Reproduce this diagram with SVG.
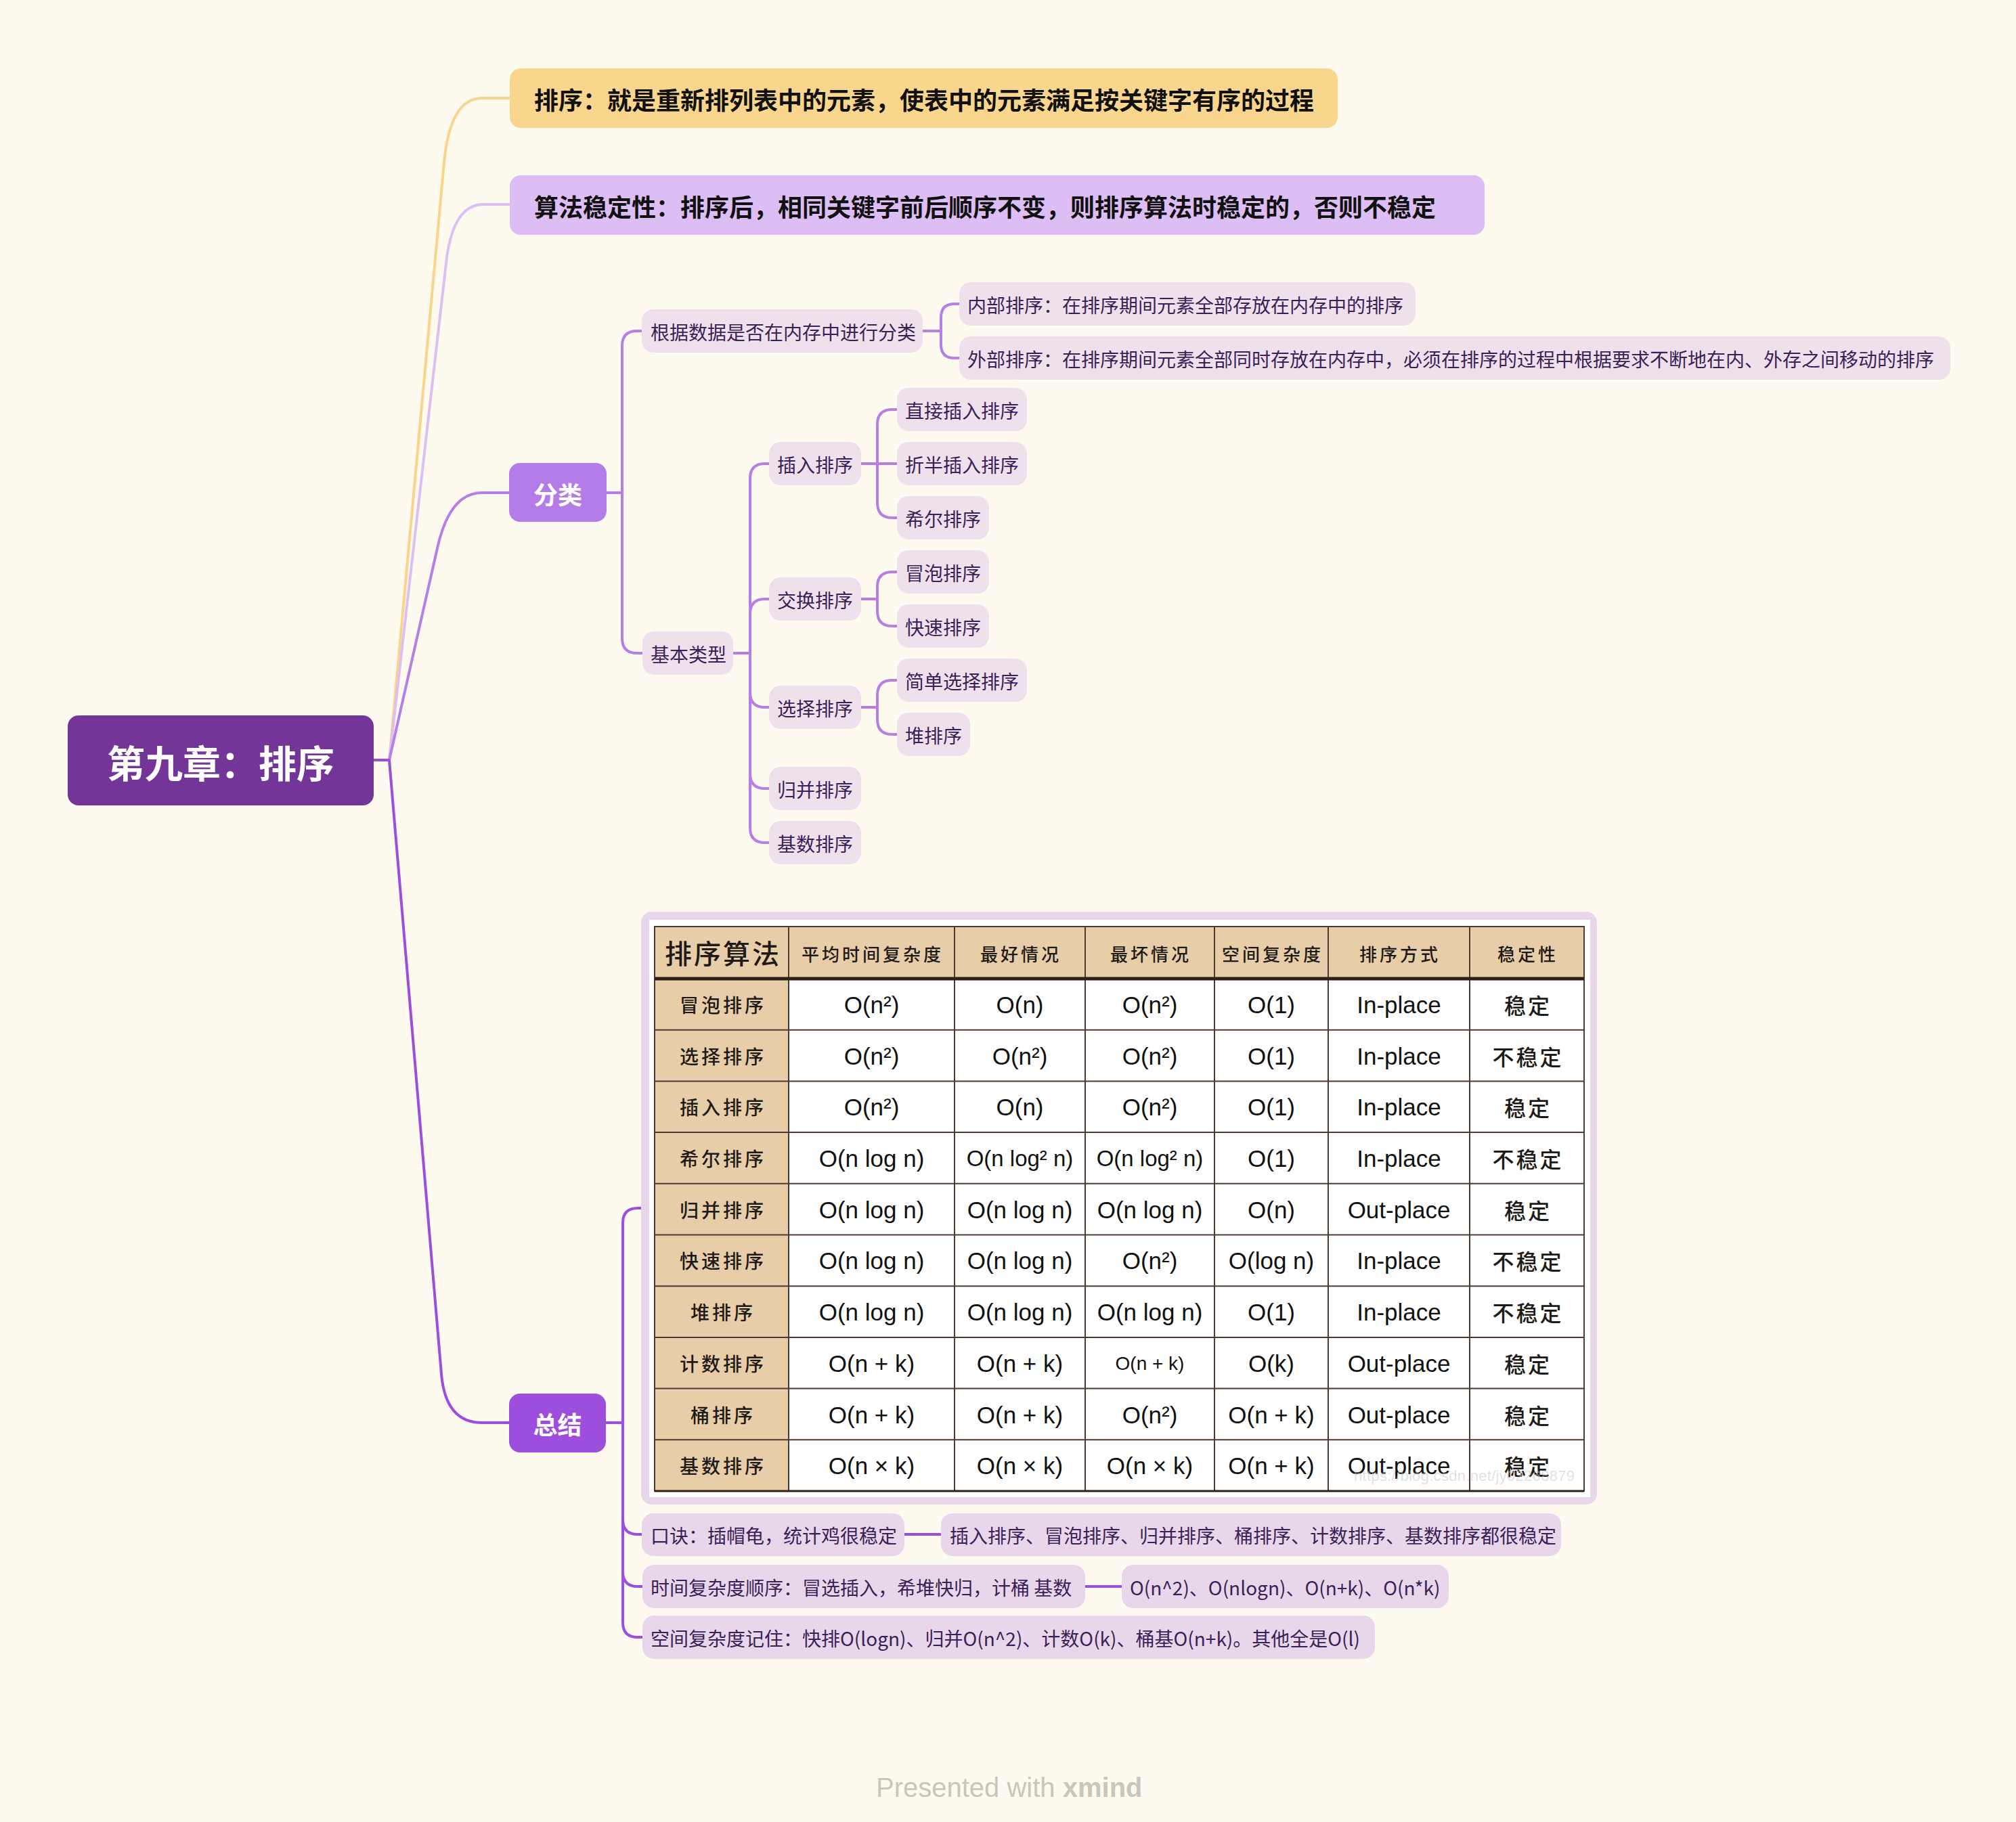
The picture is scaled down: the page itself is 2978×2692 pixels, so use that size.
<svg xmlns="http://www.w3.org/2000/svg" width="2978" height="2692" viewBox="0 0 2978 2692">
<style>
.t{font-family:"Noto Sans CJK SC","Noto Sans",sans-serif;}
.n28{font-family:"Noto Sans CJK SC","Noto Sans",sans-serif;font-size:28px;fill:#3B1F57;dominant-baseline:central;}
.nb{fill:#EEE1EC;}
.ns{fill:#E8D6EA;}
.c1{fill:none;stroke:#B57FE6;stroke-width:4;stroke-linecap:round;}
.c2{fill:none;stroke:#9D4EDD;stroke-width:4;stroke-linecap:round;}
.hd{font-family:"Noto Sans CJK SC",sans-serif;font-size:26px;fill:#1E1A16;letter-spacing:4px;text-anchor:middle;dominant-baseline:central;font-weight:500;}
.rl{font-family:"Noto Sans CJK SC",sans-serif;font-size:28px;fill:#1E1A16;letter-spacing:4px;text-anchor:middle;dominant-baseline:central;font-weight:500;}
.st{font-family:"Noto Sans CJK SC",sans-serif;font-size:32px;fill:#1E1A16;letter-spacing:3px;text-anchor:middle;dominant-baseline:central;font-weight:500;}
.d{font-family:"Liberation Sans",Arial,sans-serif;font-size:35px;fill:#111;text-anchor:middle;dominant-baseline:central;}
.grid{stroke:#4D3B31;stroke-width:2;fill:none;}
</style>
<rect x="0" y="0" width="2978" height="2692" fill="#FEFAEF"/>

<g id="connectors">
  <path d="M552 1123 H575" stroke="#9D4EDD" stroke-width="4" fill="none"/>
  <path d="M575 1123 L656 240 Q665 145 712 145 L753 145" fill="none" stroke="#FAD48A" stroke-width="4"/>
  <path d="M575 1123 L660 380 Q671 302 714 302 L753 302" fill="none" stroke="#DCC0F4" stroke-width="4"/>
  <path d="M575 1123 L646 810 Q664 728 712 728 L752 728" class="c1"/>
  <path d="M575 1123 L652 2030 Q658 2102 712 2102 L752 2102" class="c2"/>
  <path d="M896 728 H919" class="c1"/>
  <path d="M948 489 H941 Q919 489 919 511 V943 Q919 965 941 965 H949" class="c1"/>
  <path d="M1363 489 H1390" class="c1"/>
  <path d="M1417 449 H1410 Q1390 449 1390 469 V509 Q1390 529 1410 529 H1417" class="c1"/>
  <path d="M1083 965 H1108" class="c1"/>
  <path d="M1136 685 H1130 Q1108 685 1108 707 V1223 Q1108 1245 1130 1245 H1136" class="c1"/>
  <path d="M1108 907 Q1108 885 1130 885 H1136" class="c1"/>
  <path d="M1108 1023 Q1108 1045 1130 1045 H1136" class="c1"/>
  <path d="M1108 1143 Q1108 1165 1130 1165 H1136" class="c1"/>
  <path d="M1272 685 H1325" class="c1"/>
  <path d="M1325 605 H1318 Q1296 605 1296 627 V743 Q1296 765 1318 765 H1325" class="c1"/>
  <path d="M1272 885 H1296" class="c1"/>
  <path d="M1325 845 H1318 Q1296 845 1296 867 V903 Q1296 925 1318 925 H1325" class="c1"/>
  <path d="M1272 1045 H1296" class="c1"/>
  <path d="M1325 1005 H1318 Q1296 1005 1296 1027 V1063 Q1296 1085 1318 1085 H1325" class="c1"/>
  <path d="M895 2102 H920" class="c2"/>
  <path d="M947 1785 H942 Q920 1785 920 1807 V2397 Q920 2419 942 2419 H949" class="c2"/>
  <path d="M920 2245 Q920 2267 942 2267 H948" class="c2"/>
  <path d="M920 2322 Q920 2344 942 2344 H949" class="c2"/>
  <path d="M1336 2267 H1390" class="c2"/>
  <path d="M1603 2344 H1657" class="c2"/>
</g>

<g id="root">
  <rect x="100" y="1057" width="452" height="133" rx="16" fill="#733698"/>
  <text class="t" x="326" y="1124" font-size="56" font-weight="bold" fill="#FFFFFF" text-anchor="middle" dominant-baseline="central">第九章：排序</text>
</g>

<g id="def">
  <rect x="753" y="101" width="1223" height="88" rx="16" fill="#F9D68D"/>
  <text class="t" x="789" y="146" font-size="36" font-weight="bold" fill="#111" dominant-baseline="central">排序：就是重新排列表中的元素，使表中的元素满足按关键字有序的过程</text>
</g>
<g id="stability">
  <rect x="753" y="259" width="1440" height="88" rx="16" fill="#DDBEF4"/>
  <text class="t" x="789" y="304" font-size="36" font-weight="bold" fill="#111" dominant-baseline="central">算法稳定性：排序后，相同关键字前后顺序不变，则排序算法时稳定的，否则不稳定</text>
</g>

<g id="fenlei">
  <rect x="752" y="684" width="144" height="87" rx="16" fill="#B47CE6"/>
  <text class="t" x="824" y="729" font-size="36" font-weight="bold" fill="#FFFFFF" text-anchor="middle" dominant-baseline="central">分类</text>
</g>
<g id="zongjie">
  <rect x="752" y="2059" width="143" height="87" rx="16" fill="#9D4EDD"/>
  <text class="t" x="823.5" y="2103" font-size="36" font-weight="bold" fill="#FFFFFF" text-anchor="middle" dominant-baseline="central">总结</text>
</g>

<g id="genju"><rect class="nb" x="948" y="457" width="415" height="64" rx="17"/><text class="n28" x="961" y="490">根据数据是否在内存中进行分类</text></g>
<g id="neibu"><rect class="nb" x="1417" y="417" width="674" height="64" rx="17"/><text class="n28" x="1429" y="450">内部排序：在排序期间元素全部存放在内存中的排序</text></g>
<g id="waibu"><rect class="nb" x="1417" y="497" width="1464" height="64" rx="17"/><text class="n28" x="1429" y="530">外部排序：在排序期间元素全部同时存放在内存中，必须在排序的过程中根据要求不断地在内、外存之间移动的排序</text></g>
<g id="jiben"><rect class="nb" x="949" y="933" width="134" height="64" rx="17"/><text class="n28" x="961" y="966">基本类型</text></g>

<g id="charu"><rect class="nb" x="1136" y="653" width="136" height="64" rx="17"/><text class="n28" x="1148" y="686">插入排序</text></g>
<g id="jiaohuan"><rect class="nb" x="1136" y="853" width="136" height="64" rx="17"/><text class="n28" x="1148" y="886">交换排序</text></g>
<g id="xuanze"><rect class="nb" x="1136" y="1013" width="136" height="64" rx="17"/><text class="n28" x="1148" y="1046">选择排序</text></g>
<g id="guibing"><rect class="nb" x="1136" y="1133" width="136" height="64" rx="17"/><text class="n28" x="1148" y="1166">归并排序</text></g>
<g id="jishu"><rect class="nb" x="1136" y="1213" width="136" height="64" rx="17"/><text class="n28" x="1148" y="1246">基数排序</text></g>

<g id="zhijie"><rect class="nb" x="1325" y="573" width="192" height="64" rx="17"/><text class="n28" x="1337" y="606">直接插入排序</text></g>
<g id="zheban"><rect class="nb" x="1325" y="653" width="192" height="64" rx="17"/><text class="n28" x="1337" y="686">折半插入排序</text></g>
<g id="xier"><rect class="nb" x="1325" y="733" width="136" height="64" rx="17"/><text class="n28" x="1337" y="766">希尔排序</text></g>
<g id="maopao"><rect class="nb" x="1325" y="813" width="136" height="64" rx="17"/><text class="n28" x="1337" y="846">冒泡排序</text></g>
<g id="kuaisu"><rect class="nb" x="1325" y="893" width="136" height="64" rx="17"/><text class="n28" x="1337" y="926">快速排序</text></g>
<g id="jiandan"><rect class="nb" x="1325" y="973" width="192" height="64" rx="17"/><text class="n28" x="1337" y="1006">简单选择排序</text></g>
<g id="dui"><rect class="nb" x="1325" y="1053" width="108" height="64" rx="17"/><text class="n28" x="1337" y="1086">堆排序</text></g>

<g id="table">
  <rect x="947" y="1347" width="1412" height="876" rx="16" fill="#E8D6EA"/>
  <rect x="959" y="1359" width="1390" height="853" fill="#FFFFFF"/>
  <rect x="967" y="1369" width="1373" height="77" fill="#E8CDA9"/>
  <rect x="967" y="1446" width="198" height="757" fill="#E8CDA9"/>
  <path class="grid" d="M967 1369 H2340 V2203 H967 Z M967 1521.7 H2340 M967 1597.4 H2340 M967 1673.1 H2340 M967 1748.8 H2340 M967 1824.5 H2340 M967 1900.2 H2340 M967 1975.9 H2340 M967 2051.6 H2340 M967 2127.3 H2340 M1165 1369 V2203 M1410 1369 V2203 M1603 1369 V2203 M1794 1369 V2203 M1962 1369 V2203 M2171 1369 V2203"/>
  <path d="M967 1446 H2340" stroke="#2E2016" stroke-width="5"/>
  <path d="M967 2203 H2340" stroke="#2E2016" stroke-width="3"/>
  <text class="hd" x="1068" y="1407" style="font-size:40px;letter-spacing:3px">排序算法</text>
  <text class="hd" x="1289" y="1408">平均时间复杂度</text>
  <text class="hd" x="1508" y="1408">最好情况</text>
  <text class="hd" x="1700" y="1408">最坏情况</text>
  <text class="hd" x="1880" y="1408">空间复杂度</text>
  <text class="hd" x="2068" y="1408">排序方式</text>
  <text class="hd" x="2257" y="1408">稳定性</text>

  <text class="rl" x="1068" y="1484">冒泡排序</text>
  <text class="rl" x="1068" y="1560">选择排序</text>
  <text class="rl" x="1068" y="1635">插入排序</text>
  <text class="rl" x="1068" y="1711">希尔排序</text>
  <text class="rl" x="1068" y="1787">归并排序</text>
  <text class="rl" x="1068" y="1862">快速排序</text>
  <text class="rl" x="1068" y="1938">堆排序</text>
  <text class="rl" x="1068" y="2014">计数排序</text>
  <text class="rl" x="1068" y="2090">桶排序</text>
  <text class="rl" x="1068" y="2165">基数排序</text>

  <text class="d" x="1287.5" y="1484">O(n²)</text>
  <text class="d" x="1506.5" y="1484">O(n)</text>
  <text class="d" x="1698.5" y="1484">O(n²)</text>
  <text class="d" x="1878" y="1484">O(1)</text>
  <text class="d" x="2066.5" y="1484">In-place</text>
  <text class="st" x="2257" y="1484">稳定</text>

  <text class="d" x="1287.5" y="1560">O(n²)</text>
  <text class="d" x="1506.5" y="1560">O(n²)</text>
  <text class="d" x="1698.5" y="1560">O(n²)</text>
  <text class="d" x="1878" y="1560">O(1)</text>
  <text class="d" x="2066.5" y="1560">In-place</text>
  <text class="st" x="2257" y="1560">不稳定</text>

  <text class="d" x="1287.5" y="1635">O(n²)</text>
  <text class="d" x="1506.5" y="1635">O(n)</text>
  <text class="d" x="1698.5" y="1635">O(n²)</text>
  <text class="d" x="1878" y="1635">O(1)</text>
  <text class="d" x="2066.5" y="1635">In-place</text>
  <text class="st" x="2257" y="1635">稳定</text>

  <text class="d" x="1287.5" y="1711">O(n log n)</text>
  <text class="d" x="1506.5" y="1711" style="font-size:33px">O(n log² n)</text>
  <text class="d" x="1698.5" y="1711" style="font-size:33px">O(n log² n)</text>
  <text class="d" x="1878" y="1711">O(1)</text>
  <text class="d" x="2066.5" y="1711">In-place</text>
  <text class="st" x="2257" y="1711">不稳定</text>

  <text class="d" x="1287.5" y="1787">O(n log n)</text>
  <text class="d" x="1506.5" y="1787">O(n log n)</text>
  <text class="d" x="1698.5" y="1787">O(n log n)</text>
  <text class="d" x="1878" y="1787">O(n)</text>
  <text class="d" x="2066.5" y="1787">Out-place</text>
  <text class="st" x="2257" y="1787">稳定</text>

  <text class="d" x="1287.5" y="1862">O(n log n)</text>
  <text class="d" x="1506.5" y="1862">O(n log n)</text>
  <text class="d" x="1698.5" y="1862">O(n²)</text>
  <text class="d" x="1878" y="1862">O(log n)</text>
  <text class="d" x="2066.5" y="1862">In-place</text>
  <text class="st" x="2257" y="1862">不稳定</text>

  <text class="d" x="1287.5" y="1938">O(n log n)</text>
  <text class="d" x="1506.5" y="1938">O(n log n)</text>
  <text class="d" x="1698.5" y="1938">O(n log n)</text>
  <text class="d" x="1878" y="1938">O(1)</text>
  <text class="d" x="2066.5" y="1938">In-place</text>
  <text class="st" x="2257" y="1938">不稳定</text>

  <text class="d" x="1287.5" y="2014">O(n + k)</text>
  <text class="d" x="1506.5" y="2014">O(n + k)</text>
  <text class="d" x="1698.5" y="2014" style="font-size:28px">O(n + k)</text>
  <text class="d" x="1878" y="2014">O(k)</text>
  <text class="d" x="2066.5" y="2014">Out-place</text>
  <text class="st" x="2257" y="2014">稳定</text>

  <text class="d" x="1287.5" y="2090">O(n + k)</text>
  <text class="d" x="1506.5" y="2090">O(n + k)</text>
  <text class="d" x="1698.5" y="2090">O(n²)</text>
  <text class="d" x="1878" y="2090">O(n + k)</text>
  <text class="d" x="2066.5" y="2090">Out-place</text>
  <text class="st" x="2257" y="2090">稳定</text>

  <text class="d" x="1287.5" y="2165">O(n × k)</text>
  <text class="d" x="1506.5" y="2165">O(n × k)</text>
  <text class="d" x="1698.5" y="2165">O(n × k)</text>
  <text class="d" x="1878" y="2165">O(n + k)</text>
  <text class="d" x="2066.5" y="2165">Out-place</text>
  <text class="st" x="2257" y="2165">稳定</text>
  <text x="2000" y="2180" font-family="Liberation Sans, Arial, sans-serif" font-size="22" fill="#C8C8C8" fill-opacity="0.55" textLength="326" dominant-baseline="central">https://blog.csdn.net/jy02268879</text>
</g>

<g id="koujue"><rect class="ns" x="948" y="2236" width="388" height="63" rx="17"/><text class="n28" x="961" y="2268">口诀：插帽龟，统计鸡很稳定</text></g>
<g id="koujue-detail"><rect class="ns" x="1390" y="2236" width="916" height="63" rx="17"/><text class="n28" x="1403" y="2268">插入排序、冒泡排序、归并排序、桶排序、计数排序、基数排序都很稳定</text></g>
<g id="shijian"><rect class="ns" x="949" y="2312" width="654" height="64" rx="17"/><text class="n28" x="961" y="2345">时间复杂度顺序：冒选插入，希堆快归，计桶 基数</text></g>
<g id="shijian-detail"><rect class="ns" x="1657" y="2312" width="483" height="64" rx="17"/><text class="n28" x="1669" y="2345">O(n^2)、O(nlogn)、O(n+k)、O(n*k)</text></g>
<g id="kongjian"><rect class="ns" x="949" y="2387" width="1082" height="64" rx="17"/><text class="n28" x="961" y="2420">空间复杂度记住：快排O(logn)、归并O(n^2)、计数O(k)、桶基O(n+k)。其他全是O(l)</text></g>

<text x="1294" y="2655" font-family="Liberation Sans, Arial, sans-serif" font-size="40" fill="#C9C6BA">Presented with <tspan font-weight="bold">xmind</tspan></text>
</svg>
